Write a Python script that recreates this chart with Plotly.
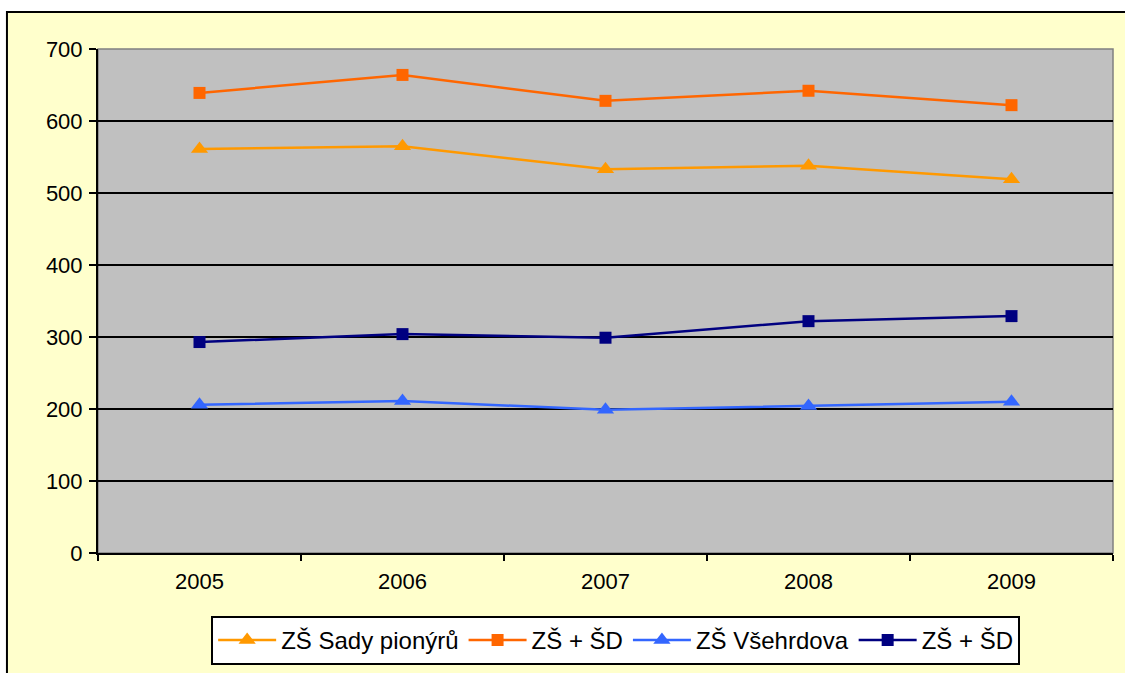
import plotly.graph_objects as go

years = ["2005", "2006", "2007", "2008", "2009"]
sady_pionyru = [561, 565, 533, 538, 519]
zs_sd_1 = [639, 664, 628, 642, 622]
vsehrdova = [206, 211, 199, 204, 210]
zs_sd_2 = [293, 304, 299, 322, 329]

series = [
    ("ZŠ Sady pionýrů", sady_pionyru, "#FF9900", "triangle-up", 15),
    ("ZŠ + ŠD", zs_sd_1, "#FF6600", "square", 12),
    ("ZŠ Všehrdova", vsehrdova, "#3366FF", "triangle-up", 15),
    ("ZŠ + ŠD", zs_sd_2, "#000080", "square", 12),
]

fig = go.Figure()
for name, vals, color, sym, size in series:
    fig.add_trace(go.Scatter(
        x=years, y=vals, name=name, mode="lines+markers",
        line=dict(color=color, width=2.5),
        marker=dict(symbol=sym, size=size, color=color),
    ))

font_family = "Liberation Sans, Arial, sans-serif"

fig.update_layout(
    width=1125, height=673,
    margin=dict(l=98, r=12, t=49, b=120, autoexpand=False),
    paper_bgcolor="white",
    plot_bgcolor="#C0C0C0",
    font=dict(family=font_family, size=22, color="black"),
    showlegend=True,
    legend=dict(
        orientation="h", x=0.51, xanchor="center", y=-0.125, yanchor="top",
        bgcolor="white", bordercolor="black", borderwidth=2,
        font=dict(family=font_family, size=24, color="black"),
        itemwidth=58, tracegroupgap=0,
    ),
    shapes=[
        dict(type="rect", xref="paper", yref="paper",
             x0=-0.0897, x1=1.05, y0=-0.35, y1=1.0734,
             fillcolor="#FFFFCC", line=dict(color="black", width=2), layer="below"),
        dict(type="rect", xref="paper", yref="paper",
             x0=0, x1=1, y0=0, y1=1,
             fillcolor="#C0C0C0", line=dict(color="#808080", width=1.5), layer="below"),
    ],
)

fig.update_xaxes(
    type="category", tickson="boundaries", range=[-0.5, 4.5],
    showgrid=False, showline=True, linecolor="black", linewidth=2,
    ticks="outside", ticklen=6, tickwidth=2, tickcolor="black",
    ticklabelstandoff=8,
    tickfont=dict(family=font_family, size=22, color="black"),
)
fig.update_yaxes(
    range=[0, 700], tickvals=[0, 100, 200, 300, 400, 500, 600, 700],
    showgrid=True, gridcolor="black", gridwidth=2, zeroline=False,
    showline=True, linecolor="black", linewidth=2,
    ticks="outside", ticklen=7, tickwidth=2, tickcolor="black",
    ticklabelstandoff=2,
    tickfont=dict(family=font_family, size=22, color="black"),
)

fig.write_html(
    "out.html",
    config={"displayModeBar": False},
    post_script="document.body.style.margin='0';document.body.style.overflow='hidden';",
)
